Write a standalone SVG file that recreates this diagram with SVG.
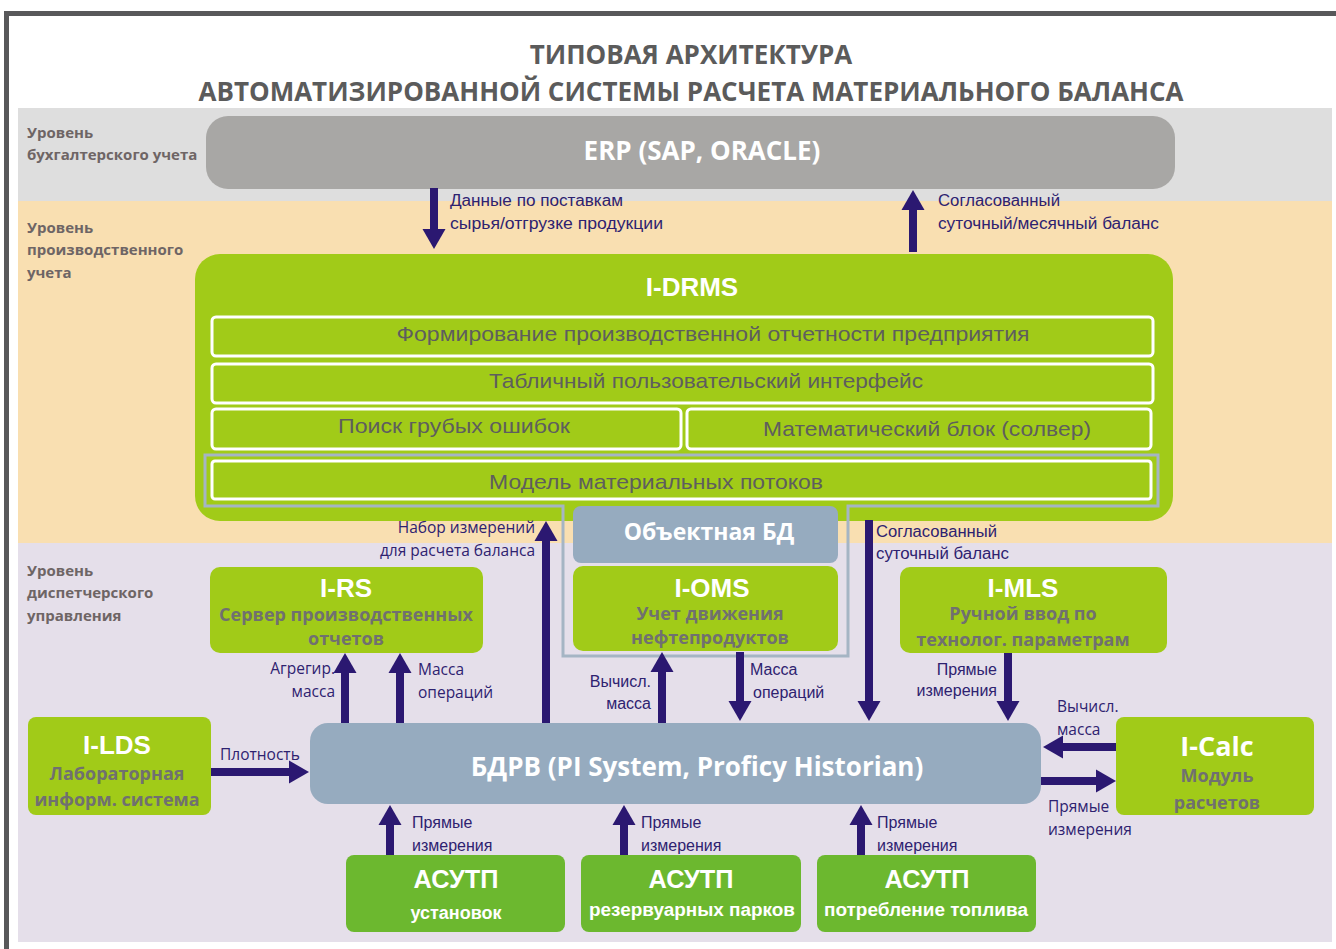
<svg xmlns="http://www.w3.org/2000/svg" width="1336" height="949" viewBox="0 0 1336 949">
<style>
.title{font-family:"Open Sans","Liberation Sans",sans-serif;font-weight:bold;font-size:26px;fill:#5b5b5b;text-anchor:middle}
.lvl{font-family:"Open Sans","Liberation Sans",sans-serif;font-weight:bold;font-size:15px;fill:#6e6565}
.lbl{font-family:"Open Sans","Liberation Sans",sans-serif;font-size:15.5px;fill:#2e2270}
.cl{font-family:"Liberation Sans",sans-serif;font-size:16px;fill:#2e2270}
.row{font-family:"Liberation Sans",sans-serif;font-size:21px;fill:#5e5e5e;text-anchor:middle}
.ntitle{font-family:"Liberation Sans",sans-serif;font-weight:bold;font-size:26px;fill:#fff;text-anchor:middle}
.sub{font-family:"Open Sans","Liberation Sans",sans-serif;font-weight:bold;font-size:18px;fill:#707070;text-anchor:middle}
.wb{font-family:"Open Sans","Liberation Sans",sans-serif;font-weight:bold;fill:#fff;text-anchor:middle}
.asub{font-family:"Liberation Sans",sans-serif;font-weight:bold;font-size:18px;fill:#fff;text-anchor:middle}
.green{fill:#a1cb18}
.dgreen{fill:#6cb82f}
.blue{fill:#96abbf}
.inner{fill:#a1cb18;stroke:#fff;stroke-width:3}
.arr{stroke:#2b1871;stroke-width:8;fill:none;marker-end:url(#ah)}
</style>
<defs>
<marker id="ah" markerUnits="userSpaceOnUse" markerWidth="20" markerHeight="23" refX="0" refY="11.5" orient="auto" viewBox="0 0 20 23" overflow="visible">
<path d="M0,0 L20,11.5 L0,23 Z" fill="#2b1871"/>
</marker>
</defs>
<rect x="0" y="0" width="1336" height="949" fill="#fff"/>
<rect x="6.5" y="13.5" width="1345" height="950" fill="none" stroke="#58585a" stroke-width="5"/>
<!-- bands -->
<rect x="18" y="108" width="1314" height="93" fill="#dedede"/>
<rect x="18" y="201" width="1314" height="342" fill="#f9dfb1"/>
<rect x="18" y="543" width="1314" height="399" fill="#e5dfea"/>
<!-- title -->
<text class="title" x="691" y="64">ТИПОВАЯ АРХИТЕКТУРА</text>
<text class="title" x="691" y="101">АВТОМАТИЗИРОВАННОЙ СИСТЕМЫ РАСЧЕТА МАТЕРИАЛЬНОГО БАЛАНСА</text>
<!-- level labels -->
<text class="lvl" x="27" y="138">Уровень</text>
<text class="lvl" x="27" y="160">бухгалтерского учета</text>
<text class="lvl" x="27" y="233">Уровень</text>
<text class="lvl" x="27" y="255">производственного</text>
<text class="lvl" x="27" y="278">учета</text>
<text class="lvl" x="27" y="576">Уровень</text>
<text class="lvl" x="27" y="598">диспетчерского</text>
<text class="lvl" x="27" y="621">управления</text>

<g id="erp">
<rect x="206" y="116" width="969" height="73" rx="22" fill="#a8a7a5"/>
<text class="wb" x="702" y="160" font-size="26">ERP (SAP, ORACLE)</text>
</g>

<g id="idrms">
<rect x="195" y="254" width="978" height="267" rx="25" class="green"/>
<text class="ntitle" x="692" y="296" font-size="28">I-DRMS</text>
<rect x="212" y="317" width="941" height="39" rx="4" class="inner"/>
<text class="row" x="713" y="341" textLength="633" lengthAdjust="spacingAndGlyphs">Формирование производственной отчетности предприятия</text>
<rect x="212" y="364" width="941" height="39" rx="4" class="inner"/>
<text class="row" x="706" y="388" textLength="434" lengthAdjust="spacingAndGlyphs">Табличный пользовательский интерфейс</text>
<rect x="212" y="409" width="469" height="40" rx="4" class="inner"/>
<text class="row" x="454" y="433" textLength="232" lengthAdjust="spacingAndGlyphs">Поиск грубых ошибок</text>
<rect x="687" y="409" width="464" height="40" rx="4" class="inner"/>
<text class="row" x="927" y="436" textLength="328" lengthAdjust="spacingAndGlyphs">Математический блок (солвер)</text>
<rect x="212" y="461" width="939" height="38" rx="3" class="inner"/>
<text class="row" x="656" y="489" textLength="334" lengthAdjust="spacingAndGlyphs">Модель материальных потоков</text>
</g>

<g id="objdb">
<rect x="573" y="506" width="265" height="57" rx="8" class="blue"/>
<text class="wb" x="709" y="540" font-size="23">Объектная БД</text>
</g>

<g id="ioms">
<rect x="573" y="566" width="265" height="85" rx="10" class="green"/>
<text class="ntitle" x="712" y="597">I-OMS</text>
<text class="sub" x="710" y="620">Учет движения</text>
<text class="sub" x="710" y="644">нефтепродуктов</text>
</g>

<g id="outline">
<path d="M205,455 H1158 V506 H848 V656 H563 V506 H205 Z" fill="none" stroke="#a5b5c4" stroke-width="3"/>
</g>

<g id="irs">
<rect x="210" y="567" width="273" height="86" rx="10" class="green"/>
<text class="ntitle" x="346" y="597">I-RS</text>
<text class="sub" x="346" y="621">Сервер производственных</text>
<text class="sub" x="346" y="645">отчетов</text>
</g>

<g id="imls">
<rect x="900" y="567" width="267" height="86" rx="10" class="green"/>
<text class="ntitle" x="1023" y="597">I-MLS</text>
<text class="sub" x="1023" y="620">Ручной ввод по</text>
<text class="sub" x="1023" y="646">технолог. параметрам</text>
</g>

<g id="ilds">
<rect x="28" y="717" width="183" height="98" rx="8" class="green"/>
<text class="ntitle" x="117" y="754">I-LDS</text>
<text class="sub" x="117" y="780">Лабораторная</text>
<text class="sub" x="117" y="806">информ. система</text>
</g>

<g id="icalc">
<rect x="1116" y="717" width="198" height="98" rx="8" class="green"/>
<text class="wb" x="1217" y="756" font-size="27" font-family="DejaVu Sans, sans-serif" font-weight="normal">I-Calc</text>
<text class="sub" x="1217" y="782">Модуль</text>
<text class="sub" x="1217" y="809">расчетов</text>
</g>

<g id="bdrv">
<rect x="310" y="723" width="731" height="81" rx="18" class="blue"/>
<text class="wb" x="697" y="776" font-size="26">БДРВ (PI System, Proficy Historian)</text>
</g>

<g id="asutp1">
<rect x="346" y="855" width="219" height="77" rx="8" class="dgreen"/>
<text class="ntitle" x="456" y="888" font-size="28" textLength="85" lengthAdjust="spacingAndGlyphs">АСУТП</text>
<text class="asub" x="456" y="919">установок</text>
</g>
<g id="asutp2">
<rect x="581" y="855" width="220" height="77" rx="8" class="dgreen"/>
<text class="ntitle" x="691" y="888" font-size="28" textLength="85" lengthAdjust="spacingAndGlyphs">АСУТП</text>
<text class="asub" x="692" y="916" textLength="206" lengthAdjust="spacingAndGlyphs">резервуарных парков</text>
</g>
<g id="asutp3">
<rect x="817" y="855" width="219" height="77" rx="8" class="dgreen"/>
<text class="ntitle" x="927" y="888" font-size="28" textLength="85" lengthAdjust="spacingAndGlyphs">АСУТП</text>
<text class="asub" x="926" y="916" textLength="204" lengthAdjust="spacingAndGlyphs">потребление топлива</text>
</g>

<g id="connectors">
<line class="arr" x1="434" y1="188" x2="434" y2="229"/>
<line class="arr" x1="913" y1="252" x2="913" y2="210"/>
<line class="arr" x1="345" y1="723" x2="345" y2="673"/>
<line class="arr" x1="400" y1="723" x2="400" y2="673"/>
<line class="arr" x1="546" y1="723" x2="546" y2="541"/>
<line class="arr" x1="662" y1="723" x2="662" y2="672"/>
<line class="arr" x1="740" y1="652" x2="740" y2="701"/>
<line class="arr" x1="869" y1="520" x2="869" y2="701"/>
<line class="arr" x1="1008" y1="653" x2="1008" y2="701"/>
<line class="arr" x1="211" y1="772" x2="289" y2="772"/>
<line class="arr" x1="1116" y1="747" x2="1063" y2="747"/>
<line class="arr" x1="1041" y1="781" x2="1096" y2="781"/>
<line class="arr" x1="390" y1="855" x2="390" y2="825"/>
<line class="arr" x1="624" y1="855" x2="624" y2="825"/>
<line class="arr" x1="861" y1="855" x2="861" y2="825"/>
</g>

<g id="labels">
<text class="cl" x="450" y="206" textLength="173" lengthAdjust="spacingAndGlyphs">Данные по поставкам</text>
<text class="cl" x="450" y="229" textLength="213" lengthAdjust="spacingAndGlyphs">сырья/отгрузке продукции</text>
<text class="cl" x="938" y="206" textLength="122" lengthAdjust="spacingAndGlyphs">Согласованный</text>
<text class="cl" x="938" y="229" textLength="221" lengthAdjust="spacingAndGlyphs">суточный/месячный баланс</text>
<text class="lbl" x="535" y="533" text-anchor="end">Набор измерений</text>
<text class="lbl" x="535" y="556" text-anchor="end">для расчета баланса</text>
<text class="cl" x="876" y="537" textLength="121" lengthAdjust="spacingAndGlyphs">Согласованный</text>
<text class="cl" x="876" y="559" textLength="133" lengthAdjust="spacingAndGlyphs">суточный баланс</text>
<text class="lbl" x="335" y="674" text-anchor="end">Агрегир.</text>
<text class="lbl" x="335" y="697" text-anchor="end">масса</text>
<text class="lbl" x="418" y="675">Масса</text>
<text class="lbl" x="418" y="698">операций</text>
<text class="cl" x="651" y="687" text-anchor="end">Вычисл.</text>
<text class="cl" x="651" y="709" text-anchor="end">масса</text>
<text class="cl" x="750" y="675">Масса</text>
<text class="cl" x="753" y="698">операций</text>
<text class="cl" x="997" y="675" text-anchor="end">Прямые</text>
<text class="cl" x="997" y="696" text-anchor="end">измерения</text>
<text class="lbl" x="220" y="760">Плотность</text>
<text class="lbl" x="1057" y="712">Вычисл.</text>
<text class="lbl" x="1057" y="735">масса</text>
<text class="lbl" x="1048" y="812">Прямые</text>
<text class="lbl" x="1048" y="835">измерения</text>
<text class="cl" x="412" y="828">Прямые</text>
<text class="cl" x="412" y="851">измерения</text>
<text class="cl" x="641" y="828">Прямые</text>
<text class="cl" x="641" y="851">измерения</text>
<text class="cl" x="877" y="828">Прямые</text>
<text class="cl" x="877" y="851">измерения</text>
</g>
</svg>
